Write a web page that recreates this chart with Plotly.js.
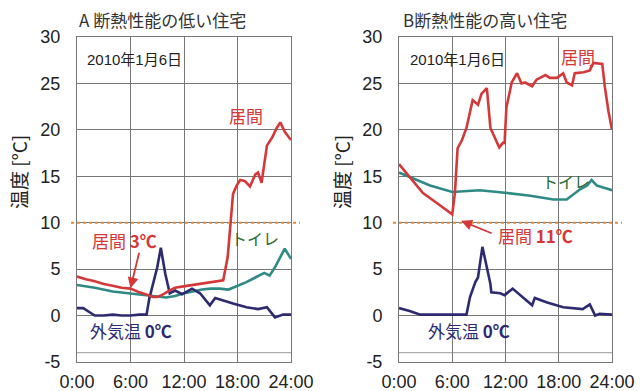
<!DOCTYPE html>
<html><head><meta charset="utf-8">
<script src="https://cdn.plot.ly/plotly-3.0.1.min.js"></script>
<style>html,body{margin:0;padding:0;background:#fff}#c{width:640px;height:391px}</style>
</head><body><div id="c"></div>
<script>
// Panel A (low insulation)
const aLivH = [0,1,2,3,4,5,6,7,8,8.5,9,9.5,10.4,11,12.3,13,14,15,16.4,16.9,17.2,17.4,17.5,17.9,18.3,18.8,19.4,20,20.3,20.7,21.3,21.9,22.4,22.8,23.3,24];
const aLivV = [4.2,3.9,3.7,3.4,3.2,3.0,2.9,2.5,2.2,2.0,2.0,2.2,2.7,3.0,3.2,3.3,3.4,3.6,3.8,6.3,10.2,12.4,13.1,14.0,14.6,14.5,13.9,15.2,15.4,14.3,18.3,19.2,20.2,20.8,19.8,18.9];
const aToiH = [0,2,4,6,8,10,11,12,13,14,15,16,17,18,19,20,21,21.6,22.2,22.8,23.3,24];
const aToiV = [3.3,3.0,2.6,2.4,2.2,1.95,2.1,2.4,2.6,2.8,2.9,2.9,2.8,3.2,3.6,4.1,4.6,4.3,5.2,6.3,7.2,6.1];
const aOutH = [0,0.7,1.5,2,3,4,5,6,7,7.8,8.1,8.7,9,9.4,9.9,10.4,11,11.8,12.9,13.8,14.9,15.5,16.4,17.5,19,20.3,21.3,22.2,23.1,24];
const aOutV = [0.8,0.8,0.3,0,0,0.1,0,0,0.1,0.1,1.8,4.0,5.2,7.3,4.5,2.4,2.7,2.3,2.9,2.4,1.1,1.9,1.6,1.3,0.9,0.7,0.9,-0.2,0.1,0.1];
// Panel B (high insulation)
const bLivH = [0,1.2,2.7,4.3,6,6.3,6.6,7.1,7.6,8.3,8.9,9.3,9.9,10.3,10.8,11.3,11.7,11.9,12.1,12.7,13.3,13.8,14.2,15,15.5,16.5,17,17.8,18.5,18.9,19.5,19.8,20.8,21.5,21.9,22.9,23.2,23.6,24];
const bLivV = [16.3,14.9,13.2,12.1,10.9,13.2,18.0,18.9,20.2,23.2,22.7,23.9,24.5,20.2,19.1,18.1,18.6,18.6,22.4,25.1,26.1,25.0,25.1,24.7,25.4,25.9,25.6,25.6,26.1,25.1,24.8,26.1,26.2,26.4,27.2,27.1,24.6,22.0,20.0];
const bToiH = [0,1.2,3.5,6,9.1,12.2,14.8,17.4,18.9,20.4,21.2,21.7,22.3,23,24];
const bToiV = [15.4,14.9,14.0,13.3,13.5,13.2,12.9,12.5,12.5,13.6,14.0,14.6,14.0,13.8,13.5];
const bOutH = [0,1.2,2.4,4,6,7.6,8,8.6,8.9,9.4,10.3,10.4,11.4,11.9,12.8,14.4,15,15.3,16.7,18.5,20.7,21.5,22.1,22.6,24];
const bOutV = [0.8,0.5,0.1,0.1,0.1,0.1,2.0,3.6,4.1,7.4,3.4,2.5,2.4,2.2,2.9,1.6,1.1,1.9,1.4,0.9,0.7,1.2,0.0,0.2,0.1];

const xTickVals = [0,6,12,18,24];
const xTickText = ['0:00','6:00','12:00','18:00','24:00'];
const yTickVals = [-5,0,5,10,15,20,25,30];
const yTickText = ['-5','0','5','10','15','20','25','30'];

const RED='#d43838', TEAL='#2f8a86', NAVY='#2e2a70', ORANGE='#e8892a', GREEN='#2e6b35';
const LW=2.6;
function tr(x,y,c,xa,ya){return {x:x,y:y,type:'scatter',mode:'lines',line:{color:c,width:LW},xaxis:xa,yaxis:ya,hoverinfo:'skip',showlegend:false};}
const data=[
  tr(aToiH,aToiV,TEAL,'x','y'), tr(aOutH,aOutV,NAVY,'x','y'), tr(aLivH,aLivV,RED,'x','y'),
  tr(bToiH,bToiV,TEAL,'x2','y2'), tr(bOutH,bOutV,NAVY,'x2','y2'), tr(bLivH,bLivV,RED,'x2','y2')
];
const FONT='Liberation Sans, Noto Sans CJK JP, sans-serif';
const JF='Noto Sans CJK JP, sans-serif';
function xax(dom,anchor){return {domain:dom,range:[0,24],anchor:anchor,tickvals:xTickVals,ticktext:xTickText,showgrid:true,gridcolor:'#777',gridwidth:1,zeroline:false,showline:true,linecolor:'#777',linewidth:1,mirror:true,ticks:'',tickfont:{family:FONT,size:18,color:'#222'},ticklabelstandoff:3,fixedrange:true};}
function yax(anchor){return {domain:[0.0742,0.9054],range:[-5,30],anchor:anchor,tickvals:yTickVals,ticktext:yTickText,showgrid:true,gridcolor:'#777',gridwidth:1,zeroline:false,showline:true,linecolor:'#777',linewidth:1,mirror:true,ticks:'',tickfont:{family:FONT,size:18,color:'#222'},ticklabelstandoff:12,fixedrange:true};}
const dom1=[77/640,291/640], dom2=[399/640,612/640];
function ann(o){return Object.assign({showarrow:false,xanchor:'center',yanchor:'middle',xref:'paper',yref:'paper',font:{family:JF,size:16}},o);}
const annotations=[
  ann({x:77/640,y:1-20/391,xanchor:'left',text:'A 断熱性能の低い住宅',font:{family:JF,size:17,color:'#333'}}),
  ann({x:401/640,y:1-20/391,xanchor:'left',text:'B断熱性能の高い住宅',font:{family:JF,size:17,color:'#333'}}),
  ann({x:18/640,y:1-172/391,text:'温度 [°C]',textangle:-90,font:{family:JF,size:19,color:'#222'}}),
  ann({x:341/640,y:1-172/391,text:'温度 [°C]',textangle:-90,font:{family:JF,size:19,color:'#222'}}),
  ann({x:85/640,y:1-60/391,xanchor:'left',text:'2010年1月6日',font:{family:FONT,size:15,color:'#222'}}),
  ann({x:408/640,y:1-60/391,xanchor:'left',text:'2010年1月6日',font:{family:FONT,size:15,color:'#222'}}),
  ann({x:246/640,y:1-115/391,text:'居間',font:{family:JF,size:17,color:RED}}),
  ann({x:578/640,y:1-56/391,text:'居間',font:{family:JF,size:17,color:RED}}),
  ann({x:255/640,y:1-238/391,text:'トイレ',font:{family:JF,size:16,color:GREEN}}),
  ann({x:566/640,y:1-181/391,text:'トイレ',font:{family:JF,size:16,color:GREEN}}),
  ann({x:124/640,y:1-240/391,text:'居間 <b>3℃</b>',font:{family:JF,size:17,color:RED}}),
  ann({x:535/640,y:1-236/391,text:'居間 <b>11℃</b>',font:{family:JF,size:17,color:RED}}),
  ann({x:131/640,y:1-330/391,text:'外気温 <b>0℃</b>',font:{family:JF,size:17,color:NAVY}}),
  ann({x:469/640,y:1-330/391,text:'外気温 <b>0℃</b>',font:{family:JF,size:17,color:NAVY}}),
  {xref:'x',yref:'y',x:6,y:2.95,ax:9,ay:-37,text:'',showarrow:true,arrowhead:2,arrowsize:1.2,arrowwidth:1.8,arrowcolor:RED},
  {xref:'x2',yref:'y2',x:7.0,y:10.2,ax:32,ay:13,text:'',showarrow:true,arrowhead:2,arrowsize:1.2,arrowwidth:1.8,arrowcolor:RED}
];
const shapes=[
  {type:'line',xref:'paper',yref:'y',x0:71/640,x1:300/640,y0:10,y1:10,line:{color:ORANGE,width:2,dash:'dot'}},
  {type:'line',xref:'paper',yref:'y2',x0:393/640,x1:622/640,y0:10,y1:10,line:{color:ORANGE,width:2,dash:'dot'}},
  {type:'line',xref:'x',yref:'y',x0:0,x1:24,y0:-4,y1:-4,line:{color:'#999',width:1},layer:'below'},
  {type:'line',xref:'x2',yref:'y2',x0:0,x1:24,y0:-4,y1:-4,line:{color:'#999',width:1},layer:'below'}
];
const layout={width:640,height:391,margin:{l:0,r:0,t:0,b:0},paper_bgcolor:'#fff',plot_bgcolor:'#fff',
  xaxis:xax(dom1,'y'),yaxis:yax('x'),xaxis2:xax(dom2,'y2'),yaxis2:yax('x2'),
  annotations:annotations,shapes:shapes,showlegend:false};
Plotly.newPlot('c',data,layout,{displayModeBar:false,staticPlot:true});
</script></body></html>
